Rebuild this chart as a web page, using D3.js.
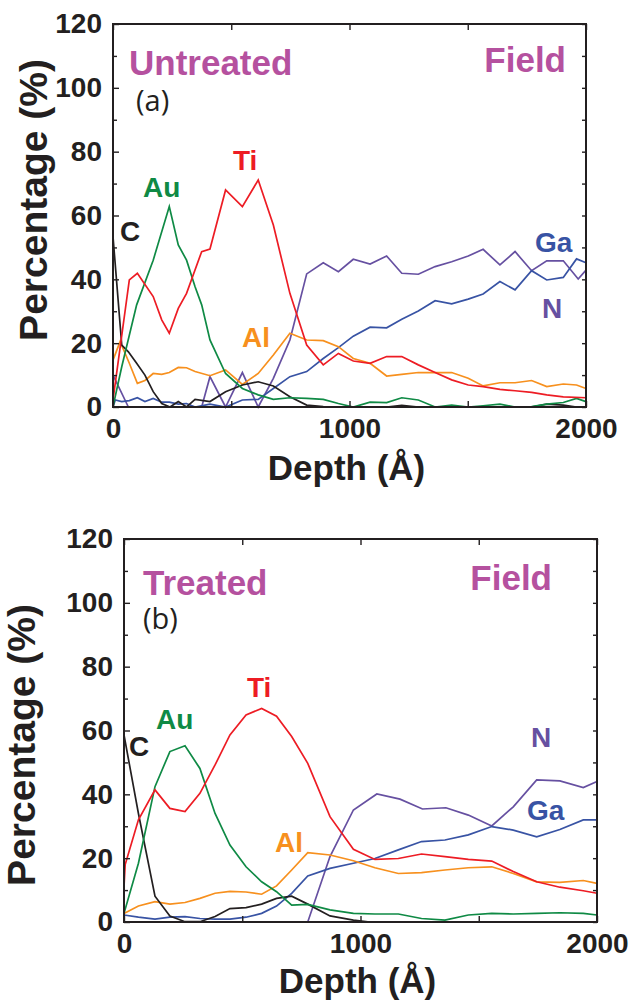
<!DOCTYPE html>
<html>
<head>
<meta charset="utf-8">
<script src="https://cdn.jsdelivr.net/npm/d3@7"></script>
<style>
  html, body { margin: 0; padding: 0; background: #fff; }
  svg text { font-family: "Liberation Sans", Arial, sans-serif; }
  .axis path, .axis line { stroke: #231f20; }
  .axis text { font-size: 28px; font-weight: bold; fill: #231f20; }
</style>
</head>
<body>
<svg id="chart" width="631" height="1004"></svg>
<script>
// depth in Angstrom, value in percent
const depthLabels = [0, 1000, 2000];
const depthTicks = [0, 500, 1000, 1500, 2000];
const percentLabels = [0, 20, 40, 60, 80, 100, 120];
const percentMinor = [10, 30, 50, 70, 90, 110];

// (a) untreated
const untreatedTi = [[0,2.2],[69,39.8],[103,41.9],[170,34.6],[206,27.3],[238,23.1],[276,30.9],[311,35.6],[375,48.7],[410,49.5],[476,68],[547,62.8],[614,71.1],[678,57],[748,35.6],[819,19.4],[889,13.2],[953,16.8],[1016,14.4],[1087,13.7],[1157,15.8],[1221,15.8],[1291,13.2],[1362,10.8],[1432,8.5],[1502,6.9],[1565,6.4],[1636,5.5],[1700,5.1],[1770,4.6],[1834,3.8],[1904,3.2],[2000,2.9]];
const untreatedAu = [[0,0.1],[37,12.6],[100,32],[170,46],[238,62.8],[276,50.8],[311,46],[347,37.7],[375,32],[410,21],[476,10.5],[547,5.8],[614,3.8],[678,2.4],[748,2.9],[819,2.7],[889,2.4],[953,1.1],[1016,0],[1087,1.5],[1157,1.4],[1221,2.9],[1291,2.2],[1362,0],[1432,0.6],[1502,0],[1565,0.4],[1636,0.9],[1700,0],[1770,0.1],[1834,0.9],[1904,1.4],[1960,2.7],[2000,1.7]];
const untreatedC = [[0,53.4],[37,19.4],[65,17.3],[100,13.7],[135,10],[170,4.8],[206,1.1],[241,0],[276,1.7],[311,0],[347,2.4],[410,1.7],[476,4.8],[547,6.9],[614,7.9],[678,6.6],[748,3.2],[819,0.6],[889,0.1],[1157,0],[1221,0.5],[1291,0],[1770,0],[1834,0.9],[1904,0.6],[1960,0],[2000,0]];
const untreatedAl = [[0,14.7],[30,20.5],[69,13.7],[103,7.4],[135,8.3],[170,10.5],[206,10.2],[238,10.8],[276,12.4],[311,12.3],[347,11.1],[410,9.8],[476,11.6],[547,7.1],[614,10.5],[678,16.3],[748,23.1],[819,21],[889,20.8],[953,18.9],[1016,15.2],[1087,13.7],[1157,9.7],[1221,10.2],[1291,10.8],[1362,10.8],[1432,10.8],[1502,9],[1565,6.6],[1636,7.6],[1700,7.6],[1770,8.3],[1834,6.4],[1904,7.2],[1960,6.9],[2000,5.8]];
const untreatedGa = [[0,0.2],[10,2.2],[37,1.7],[69,2],[103,2.9],[135,1.7],[170,2.7],[206,1.5],[238,1.5],[276,0.9],[311,1.1],[347,0],[410,0.9],[476,0],[547,2.2],[614,2.4],[678,5.8],[748,9.5],[819,11.1],[889,15.2],[953,18.6],[1016,22.2],[1087,25],[1157,24.8],[1221,27.5],[1291,30.1],[1362,33.3],[1432,32.3],[1502,33.8],[1565,35.4],[1636,39.3],[1700,36.7],[1770,42.7],[1834,39.8],[1904,40.6],[1960,46.4],[2000,45.2]];
const untreatedN = [[0,10],[65,0],[375,0],[410,9.5],[476,0],[547,10.8],[614,0],[678,9],[748,21],[819,41.7],[889,45.2],[953,42.4],[1016,46.3],[1087,44.8],[1157,47.3],[1221,41.9],[1291,41.6],[1362,44],[1432,45.5],[1502,47.3],[1565,49.4],[1636,44.5],[1700,48.7],[1770,42.7],[1834,45.8],[1904,45.8],[1967,40.1],[2000,42.9]];

// (b) treated
const treatedTi = [[0,11],[5,18],[61,32],[131,41.4],[194,35.6],[258,34.6],[321,40.3],[385,49.2],[448,58.6],[516,64.9],[582,66.9],[645,64.5],[709,58.1],[777,49.7],[871,33],[970,22.8],[1061,19.6],[1160,19.9],[1258,21.3],[1357,20.5],[1456,19.6],[1555,19.1],[1646,15.8],[1745,12.6],[1843,10.9],[1942,9.8],[2000,9]];
const treatedAu = [[0,2.7],[61,18.4],[131,42.4],[194,53.4],[258,55.2],[321,48.1],[385,34],[448,24.1],[516,17.3],[582,12.6],[645,9.5],[709,5.3],[777,5.5],[871,3.8],[970,2.7],[1061,2.5],[1160,2.5],[1258,1.1],[1357,0.6],[1456,2.2],[1555,2.7],[1646,2.5],[1745,2.7],[1843,2.9],[1942,2.7],[2000,2.2]];
const treatedC = [[0,58.6],[61,34],[131,8.1],[194,1.9],[258,0.1],[321,0.1],[385,1.7],[448,4.2],[516,4.5],[582,5.6],[645,7.4],[709,8.1],[777,5.6],[871,1.9],[970,0.6],[1040,0],[2000,0]];
const treatedAl = [[0,2.7],[61,5],[131,6.4],[194,5.6],[258,6.1],[321,7.4],[385,9],[448,9.6],[516,9.4],[582,8.7],[645,11.3],[709,16.3],[777,21.7],[871,21],[970,19.2],[1061,17],[1160,15.2],[1258,15.5],[1357,16.3],[1456,17],[1555,17.3],[1646,15.2],[1745,12.6],[1843,12.4],[1942,13],[2000,12.1]];
const treatedGa = [[0,2.2],[61,1.5],[131,0.9],[194,1.5],[258,1.7],[321,1.1],[385,0.9],[448,0.9],[516,1.5],[582,2.7],[645,5],[709,9],[777,14.4],[871,16.8],[970,18.4],[1061,19.9],[1160,22.6],[1258,25.2],[1357,25.7],[1456,27.3],[1555,29.9],[1646,28.8],[1745,26.7],[1843,29],[1942,32],[2000,32]];
const treatedN = [[0,0],[777,0],[871,20.5],[970,35.1],[1069,40.1],[1167,38.5],[1262,35.4],[1361,35.8],[1456,33.5],[1555,30.1],[1646,36.1],[1745,44.5],[1843,44.2],[1942,42.1],[2000,44]];

const colors = {
  Ti: '#ed1c24', Au: '#0f8a45', C: '#231f20',
  Al: '#f7901e', Ga: '#3853a4', N: '#6650a1', title: '#b5519f'
};

const svg = d3.select('#chart');

function drawPanel(cfg) {
  const width = 473;
  const height = 383;
  const x = d3.scaleLinear().domain([0, 2000]).range([0, width]);
  const y = d3.scaleLinear().domain([0, 120]).range([height, 0]);

  const g = svg.append('g')
    .attr('transform', `translate(${cfg.left}, ${cfg.top})`);

  // lines
  const line = d3.line()
    .x(d => x(d[0]))
    .y(d => y(d[1]));

  cfg.series.forEach(s => {
    g.append('path')
      .datum(s.values)
      .attr('fill', 'none')
      .attr('stroke', colors[s.name])
      .attr('stroke-width', 1.7)
      .attr('stroke-linejoin', 'miter')
      .attr('d', line);
  });

  // axes, ticks pointing in
  g.append('g')
    .attr('class', 'axis')
    .call(d3.axisLeft(y).tickValues(percentLabels).tickSize(-6).tickPadding(11).tickSizeOuter(0))
    .call(a => a.select('.domain').remove());
  g.append('g')
    .attr('class', 'axis')
    .call(d3.axisLeft(y).tickValues(percentMinor).tickSize(-4).tickFormat('').tickSizeOuter(0))
    .call(a => a.select('.domain').remove());
  g.append('g')
    .attr('class', 'axis')
    .attr('transform', `translate(${width}, 0)`)
    .call(d3.axisRight(y).tickValues(percentLabels.concat(percentMinor)).tickSize(-4).tickFormat('').tickSizeOuter(0))
    .call(a => a.select('.domain').remove());
  g.append('g')
    .attr('class', 'axis')
    .attr('transform', `translate(0, ${height})`)
    .call(d3.axisBottom(x).tickValues(depthLabels).tickSize(0).tickPadding(11).tickFormat(d3.format('d')))
    .call(a => a.select('.domain').remove());
  g.append('g')
    .attr('class', 'axis')
    .attr('transform', `translate(0, ${height})`)
    .call(d3.axisBottom(x).tickValues(depthTicks).tickSize(-6).tickFormat('').tickSizeOuter(0))
    .call(a => a.select('.domain').remove());
  g.append('g')
    .attr('class', 'axis')
    .call(d3.axisTop(x).tickValues(depthTicks).tickSize(-6).tickFormat('').tickSizeOuter(0))
    .call(a => a.select('.domain').remove());

  g.selectAll('.axis line').attr('stroke-width', 1.4);

  g.append('rect')
    .attr('width', width)
    .attr('height', height)
    .attr('fill', 'none')
    .attr('stroke', '#231f20')
    .attr('stroke-width', 2);

  // axis titles
  svg.append('text')
    .attr('transform', `translate(${cfg.yTitleX}, ${cfg.yTitleY}) rotate(-90)`)
    .attr('text-anchor', 'middle')
    .style('font-size', '39px')
    .style('font-weight', 'bold')
    .attr('fill', '#231f20')
    .text('Percentage (%)');

  svg.append('text')
    .attr('x', cfg.left + width / 2 - 3)
    .attr('y', cfg.xTitleY)
    .attr('text-anchor', 'middle')
    .style('font-size', '35px')
    .style('font-weight', 'bold')
    .attr('fill', '#231f20')
    .text('Depth (Å)');

  // in-plot texts
  g.append('text')
    .attr('x', cfg.title[0]).attr('y', cfg.title[1])
    .style('font-size', '35px').style('font-weight', 'bold')
    .attr('fill', colors.title)
    .text(cfg.titleText);
  g.append('text')
    .attr('x', cfg.field[0]).attr('y', cfg.field[1])
    .attr('text-anchor', 'end')
    .style('font-size', '35px').style('font-weight', 'bold')
    .attr('fill', colors.title)
    .text('Field');
  g.append('text')
    .attr('x', cfg.tag[0]).attr('y', cfg.tag[1])
    .style('font-family', '"Open Sans", sans-serif')
    .style('font-size', '29px')
    .attr('fill', '#231f20')
    .text(cfg.tagText);

  cfg.series.forEach(s => {
    g.append('text')
      .attr('x', s.label[0]).attr('y', s.label[1])
      .style('font-size', '28px').style('font-weight', 'bold')
      .attr('fill', colors[s.name])
      .text(s.name);
  });
}

drawPanel({
  left: 113, top: 24,
  yTitleX: 47, yTitleY: 200, xTitleY: 480,
  titleText: 'Untreated', title: [16, 51], field: [453, 48],
  tagText: '(a)', tag: [23, 87],
  series: [
    { name: 'N', values: untreatedN, label: [429, 294] },
    { name: 'Ga', values: untreatedGa, label: [422, 228] },
    { name: 'Al', values: untreatedAl, label: [129, 323] },
    { name: 'C', values: untreatedC, label: [7, 217] },
    { name: 'Au', values: untreatedAu, label: [30, 173] },
    { name: 'Ti', values: untreatedTi, label: [120, 146] }
  ]
});

drawPanel({
  left: 124, top: 539,
  yTitleX: 35, yTitleY: 745, xTitleY: 993,
  titleText: 'Treated', title: [19, 56], field: [428, 51],
  tagText: '(b)', tag: [19, 90],
  series: [
    { name: 'N', values: treatedN, label: [407, 208] },
    { name: 'Ga', values: treatedGa, label: [403, 281] },
    { name: 'Al', values: treatedAl, label: [151, 313] },
    { name: 'C', values: treatedC, label: [5, 217] },
    { name: 'Au', values: treatedAu, label: [32, 190] },
    { name: 'Ti', values: treatedTi, label: [123, 158] }
  ]
});
</script>
</body>
</html>
